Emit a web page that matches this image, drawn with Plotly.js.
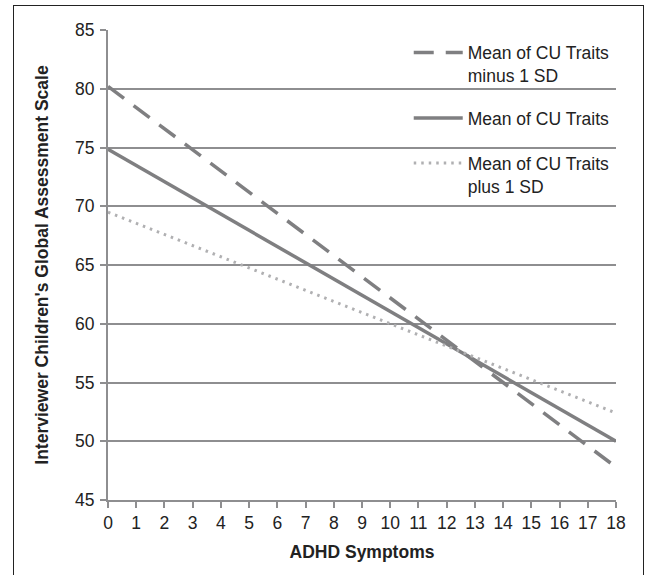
<!DOCTYPE html>
<html>
<head>
<meta charset="utf-8">
<script src="https://cdn.plot.ly/plotly-3.0.1.min.js"></script>
<style>
  html, body { margin: 0; padding: 0; background: #fff; overflow: hidden; }
  #wrap { position: relative; width: 646px; height: 575px; }
  #chart { position: absolute; left: 0; top: 0; width: 646px; height: 575px; }
  #frame { position: absolute; left: 13px; top: 5px; width: 629px; height: 600px;
           border: 1.5px solid #222; pointer-events: none; }
</style>
</head>
<body>
<div id="wrap">
  <div id="chart"></div>
  <div id="frame"></div>
</div>
<script>
// ADHD symptom endpoints
const adhdSymptoms = [0, 18];
// Interviewer CGAS predicted values at each end
const cuMinus1SD = [80.2, 47.8];
const cuMean = [74.85, 50.0];
const cuPlus1SD = [69.5, 52.4];
const seriesNames = ["Mean of CU Traits<br>minus 1 SD", "Mean of CU Traits", "Mean of CU Traits<br>plus 1 SD"];
const xTicks = [0,1,2,3,4,5,6,7,8,9,10,11,12,13,14,15,16,17,18];
const yTicks = [45,50,55,60,65,70,75,80,85];

const font = "Liberation Sans, Arial, sans-serif";
const gridC = "#8e8e90";

const traces = [
  {x: adhdSymptoms, y: cuMinus1SD, name: seriesNames[0], mode: "lines", legend: "legend",
   line: {color: "#7f7f81", width: 3.5, dash: "20px,12px"}},
  {x: adhdSymptoms, y: cuMean, name: seriesNames[1], mode: "lines", legend: "legend2",
   line: {color: "#7f7f81", width: 3.5}},
  {x: adhdSymptoms, y: cuPlus1SD, name: seriesNames[2], mode: "lines", legend: "legend3",
   line: {color: "#b0b0b2", width: 3, dash: "2.5px,5px"}}
];

const legBase = {
  xanchor: "left", yanchor: "top", bgcolor: "rgba(0,0,0,0)", borderwidth: 0,
  font: {family: font, size: 17.5, color: "#222"}, valign: "top", tracegroupgap: 0,
  itemwidth: 49
};

const layout = {
  width: 646, height: 575,
  margin: {l: 108, r: 30, t: 30, b: 75},
  paper_bgcolor: "#fff", plot_bgcolor: "#fff",
  showlegend: true,
  font: {family: font, color: "#222"},
  xaxis: {
    range: [0, 18], tickvals: xTicks, ticktext: xTicks.map(String),
    showgrid: false, zeroline: false, showline: true, linecolor: gridC, linewidth: 2,
    ticks: "outside", ticklen: 6, tickwidth: 2, tickcolor: gridC,
    tickfont: {family: font, size: 17.5, color: "#222"},
    title: {text: "<b>ADHD Symptoms</b>", font: {family: font, size: 17.5, color: "#222"}, standoff: 14}
  },
  yaxis: {
    range: [45, 85], tickvals: yTicks, ticktext: yTicks.map(String),
    showgrid: true, gridcolor: gridC, gridwidth: 2, zeroline: false,
    showline: true, linecolor: gridC, linewidth: 2,
    ticks: "outside", ticklen: 6, tickwidth: 2, tickcolor: gridC,
    ticklabelstandoff: 2,
    tickfont: {family: font, size: 17.5, color: "#222"},
    title: {text: "<b>Interviewer Children's Global Assessment Scale</b>", font: {family: font, size: 17.5, color: "#222"}, standoff: 22}
  },
  legend: Object.assign({}, legBase, {x: 0.592, y: 0.99}),
  legend2: Object.assign({}, legBase, {x: 0.592, y: 0.851}),
  legend3: Object.assign({}, legBase, {x: 0.592, y: 0.755})
};

Plotly.newPlot("chart", traces, layout, {staticPlot: true, displayModeBar: false});
</script>
</body>
</html>
